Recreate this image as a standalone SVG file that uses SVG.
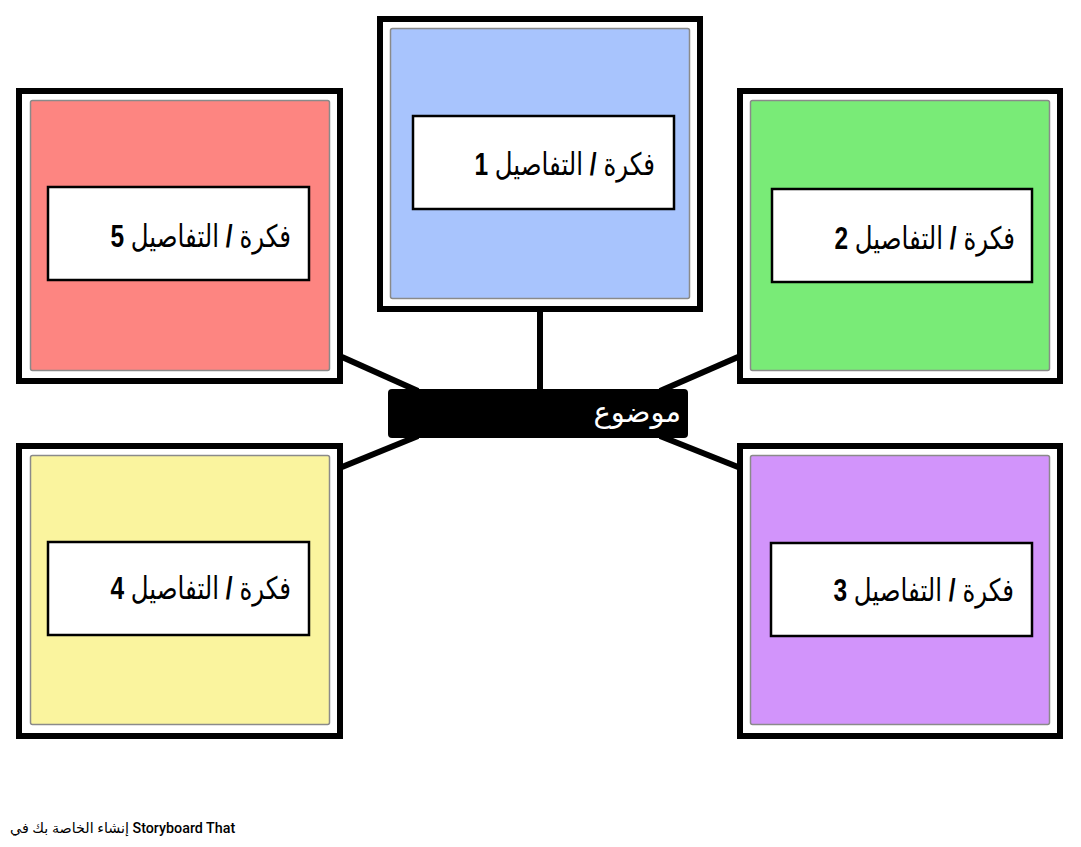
<svg xmlns="http://www.w3.org/2000/svg" width="1081" height="847" viewBox="0 0 1081 847">
<style>
.frame{fill:#fff;stroke:#000;stroke-width:6}
.inner{stroke:#8a8a8a;stroke-width:1.5}
.lbl{fill:#fff;stroke:#000;stroke-width:2.5}
.t{font-family:"Liberation Sans","DejaVu Sans",sans-serif;font-size:31px;fill:#000}
.b{font-weight:bold}
.conn{stroke:#000;stroke-width:6;fill:none}
</style>
<rect width="1081" height="847" fill="#fff"/>
<g id="connectors">
<line class="conn" x1="540" y1="310" x2="540" y2="392"/>
<line class="conn" x1="342" y1="357" x2="418" y2="391"/>
<line class="conn" x1="738" y1="357" x2="660" y2="391"/>
<line class="conn" x1="342" y1="467" x2="418" y2="436"/>
<line class="conn" x1="738" y1="467" x2="660" y2="436"/>
</g>
<g id="node1">
<rect class="frame" x="380" y="19" width="320" height="290"/>
<rect class="inner" x="390.5" y="28.5" width="299" height="270" rx="2" fill="#a8c4fd"/>
<rect class="lbl" x="413" y="116" width="261" height="93"/>
<text class="t" transform="translate(655,175) scale(0.79,1)" direction="rtl" text-anchor="start">فكرة <tspan class="b">/</tspan> التفاصيل <tspan class="b">1</tspan></text>
</g>
<g id="node2">
<rect class="frame" x="740" y="91" width="320" height="290"/>
<rect class="inner" x="750.5" y="100.5" width="299" height="270" rx="2" fill="#79eb77"/>
<rect class="lbl" x="772" y="189" width="260" height="93"/>
<text class="t" transform="translate(1015,249) scale(0.79,1)" direction="rtl" text-anchor="start">فكرة <tspan class="b">/</tspan> التفاصيل <tspan class="b">2</tspan></text>
</g>
<g id="node3">
<rect class="frame" x="740" y="446" width="320" height="290"/>
<rect class="inner" x="750.5" y="455.5" width="299" height="269" rx="2" fill="#d294fb"/>
<rect class="lbl" x="771" y="543" width="261" height="93"/>
<text class="t" transform="translate(1014,601) scale(0.79,1)" direction="rtl" text-anchor="start">فكرة <tspan class="b">/</tspan> التفاصيل <tspan class="b">3</tspan></text>
</g>
<g id="node4">
<rect class="frame" x="19" y="446" width="321" height="290"/>
<rect class="inner" x="30.5" y="455.5" width="299" height="269" rx="2" fill="#faf49e"/>
<rect class="lbl" x="48" y="542" width="261" height="93"/>
<text class="t" transform="translate(291,599) scale(0.79,1)" direction="rtl" text-anchor="start">فكرة <tspan class="b">/</tspan> التفاصيل <tspan class="b">4</tspan></text>
</g>
<g id="node5">
<rect class="frame" x="19" y="91" width="321" height="290"/>
<rect class="inner" x="30.5" y="100.5" width="299" height="270" rx="2" fill="#fd8581"/>
<rect class="lbl" x="48" y="187" width="261" height="93"/>
<text class="t" transform="translate(291,247) scale(0.79,1)" direction="rtl" text-anchor="start">فكرة <tspan class="b">/</tspan> التفاصيل <tspan class="b">5</tspan></text>
</g>
<g id="center">
<rect x="388" y="389" width="300" height="49" rx="4" fill="#000"/>
<text x="681" y="422" direction="rtl" text-anchor="start" font-family="'DejaVu Sans',sans-serif" font-size="29" fill="#fff">موضوع</text>
</g>
<text x="10" y="833" font-family="Roboto,'DejaVu Sans',sans-serif" font-size="14.3" font-weight="500" fill="#000">إنشاء الخاصة بك في Storyboard That</text>
</svg>
